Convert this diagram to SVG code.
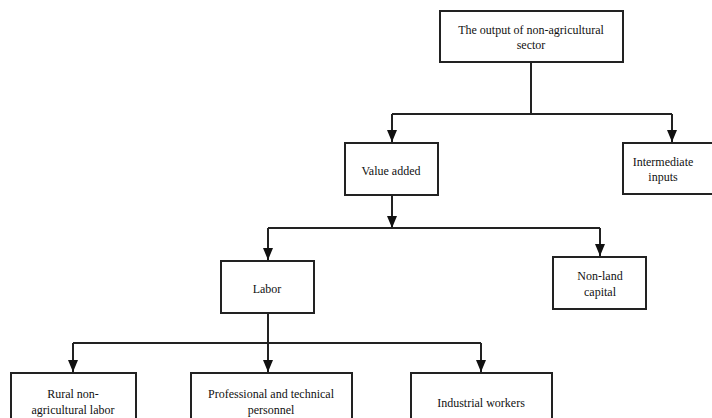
<svg xmlns="http://www.w3.org/2000/svg" width="712" height="418" viewBox="0 0 712 418">
<style>
.box{fill:#fff;stroke:#222;stroke-width:2}
.t{font-family:"Liberation Serif","Times New Roman","DejaVu Serif",serif;font-size:12px;fill:#111;text-anchor:middle}
.c{fill:none;stroke:#222;stroke-width:2}
</style>
<defs>
<marker id="ah" viewBox="0 0 12 10" refX="12" refY="5" markerWidth="12" markerHeight="10" markerUnits="userSpaceOnUse" orient="auto">
<path d="M0,0 L12,5 L0,10 Z" fill="#111"/>
</marker>
</defs>
<rect width="712" height="418" fill="#fff"/>
<g id="connectors">
<path class="c" d="M531,62 V114"/>
<path class="c" d="M392,114 H672"/>
<path class="c" d="M392,114 V142" marker-end="url(#ah)"/>
<path class="c" d="M672,114 V142" marker-end="url(#ah)"/>
<path class="c" d="M392,195 V228" marker-end="url(#ah)"/>
<path class="c" d="M268,228 H600"/>
<path class="c" d="M268,228 V260" marker-end="url(#ah)"/>
<path class="c" d="M600,228 V256" marker-end="url(#ah)"/>
<path class="c" d="M268,313 V343"/>
<path class="c" d="M73,343 H481"/>
<path class="c" d="M73,343 V372" marker-end="url(#ah)"/>
<path class="c" d="M268,343 V372" marker-end="url(#ah)"/>
<path class="c" d="M481,343 V372" marker-end="url(#ah)"/>
</g>
<g id="output">
<rect class="box" x="440" y="11" width="183" height="51"/>
<text class="t" x="531" y="34">The output of non-agricultural</text>
<text class="t" x="531" y="49">sector</text>
</g>
<g id="value-added">
<rect class="box" x="345" y="143" width="93" height="52"/>
<text class="t" x="391" y="175">Value added</text>
</g>
<g id="intermediate">
<rect class="box" x="623" y="143" width="95" height="51"/>
<text class="t" x="663" y="166">Intermediate</text>
<text class="t" x="663" y="181">inputs</text>
</g>
<g id="labor">
<rect class="box" x="221" y="261" width="93" height="52"/>
<text class="t" x="267" y="293">Labor</text>
</g>
<g id="capital">
<rect class="box" x="553" y="257" width="93" height="52"/>
<text class="t" x="600" y="280">Non-land</text>
<text class="t" x="600" y="296">capital</text>
</g>
<g id="rural">
<rect class="box" x="11" y="373" width="125" height="52"/>
<text class="t" x="73" y="398">Rural non-</text>
<text class="t" x="73" y="414">agricultural labor</text>
</g>
<g id="professional">
<rect class="box" x="191" y="373" width="161" height="52"/>
<text class="t" x="271" y="398">Professional and technical</text>
<text class="t" x="271" y="414">personnel</text>
</g>
<g id="industrial">
<rect class="box" x="411" y="373" width="141" height="52"/>
<text class="t" x="481" y="407">Industrial workers</text>
</g>
</svg>
